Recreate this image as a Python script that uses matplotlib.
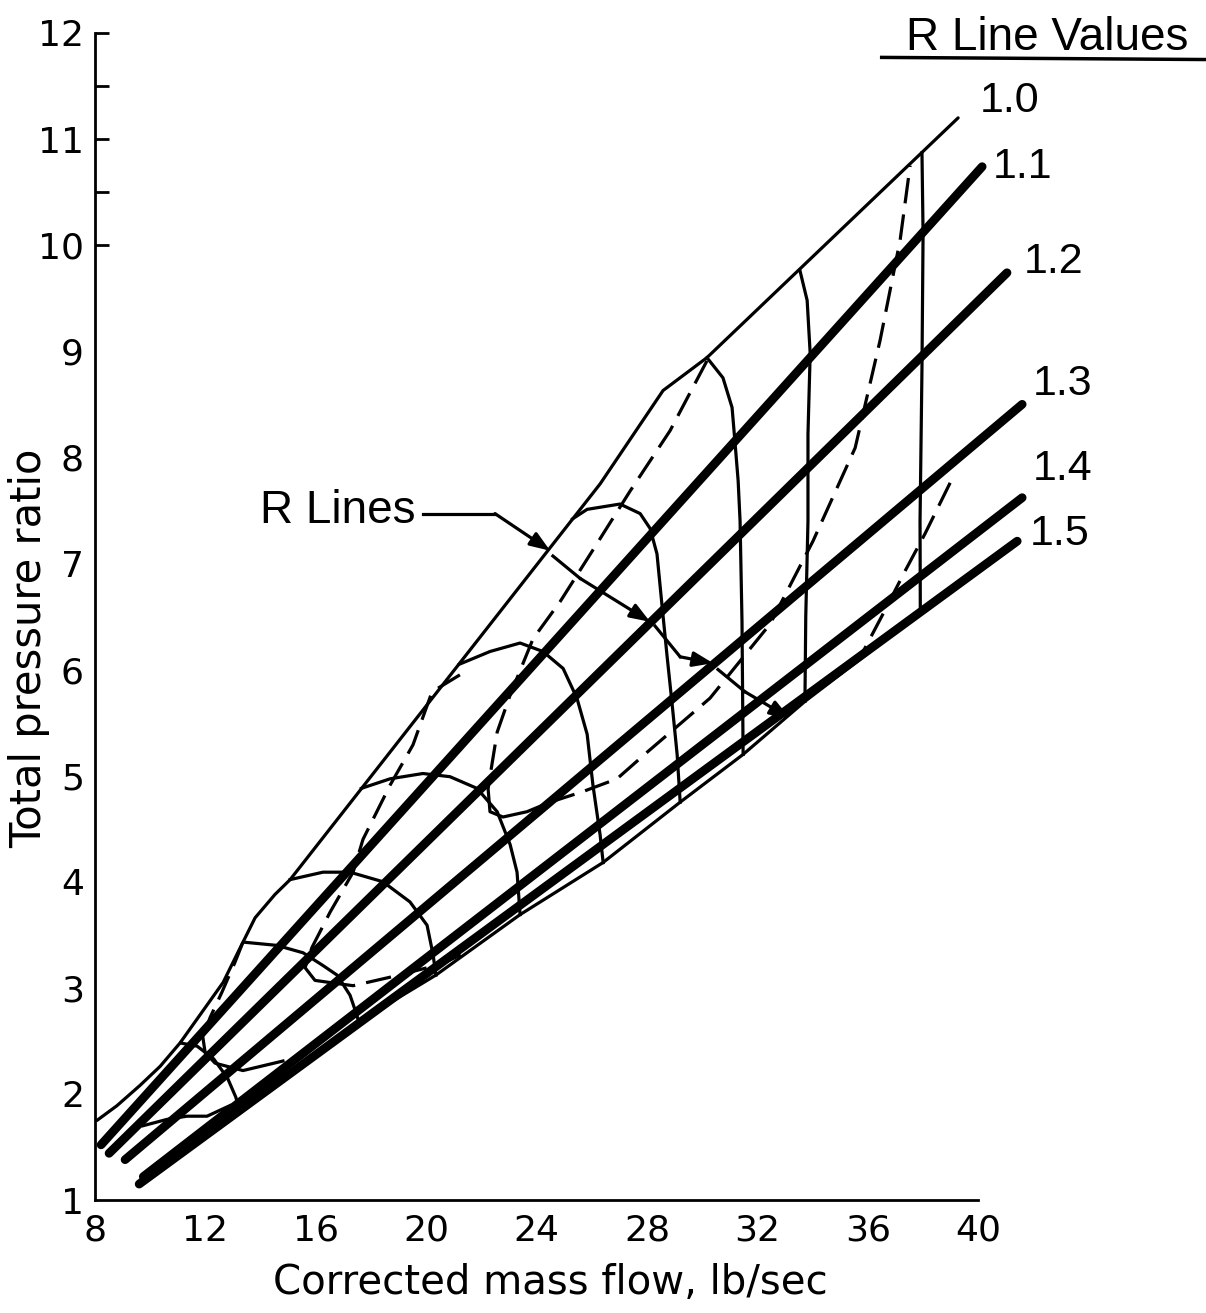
import matplotlib
matplotlib.use("Agg")
import matplotlib.pyplot as plt

# axis ticks
X_TICKS = [8, 12, 16, 20, 24, 28, 32, 36, 40]
Y_TICKS = list(range(1, 13))
Y_MARKS = [10, 10.5, 11, 11.5, 12]

# R lines 1.1 .. 1.5 (straight, heavy), start and end points
R_LABELS = ["1.0", "1.1", "1.2", "1.3", "1.4", "1.5"]
R_START_X = [8.22, 8.51, 9.09, 9.75, 9.60]
R_START_Y = [1.52, 1.44, 1.38, 1.22, 1.15]
R_END_X = [40.14, 41.04, 41.59, 41.59, 41.41]
R_END_Y = [10.74, 9.74, 8.50, 7.62, 7.21]
LABEL_X = [41.15, 41.62, 42.71, 43.07, 43.04, 42.96]
LABEL_Y = [11.36, 10.74, 9.84, 8.69, 7.89, 7.28]

# surge line, ends in the R = 1.0 line
SURGE_X = [8.07, 8.80, 9.63, 10.36, 11.08, 12.64, 13.36, 13.80, 14.52, 15.07,
           26.30, 28.58, 30.17, 39.27]
SURGE_Y = [1.75, 1.89, 2.08, 2.26, 2.48, 3.05, 3.43, 3.66, 3.88, 4.02,
           7.75, 8.63, 8.94, 11.20]

# choke side boundary
CHOKE_X = [13.2, 15.5, 17.55, 20.35, 23.4, 26.4, 29.2, 31.48, 33.72, 37.9]
CHOKE_Y = [1.86, 2.27, 2.68, 3.12, 3.69, 4.18, 4.75, 5.20, 5.70, 6.53]

# constant speed lines
SPEED_X = [
    [11.1, 11.7, 12.3, 12.8, 13.1, 13.2],
    [13.4, 14.59, 15.54, 16.26, 16.77, 17.24, 17.49, 17.55],
    [15.07, 16.26, 17.24, 18.43, 19.41, 20.03, 20.25, 20.35],
    [17.65, 18.69, 19.88, 20.86, 21.84, 22.57, 23.04, 23.29, 23.40],
    [21.2, 22.31, 23.40, 24.23, 24.96, 25.46, 25.83, 26.04, 26.30, 26.41],
    [25.3, 25.83, 27.02, 27.75, 28.11, 28.36, 28.54, 28.72, 28.91, 29.09, 29.20],
    [30.17, 30.75, 31.08, 31.19, 31.30, 31.37, 31.44, 31.48],
    [33.54, 33.80, 33.91, 33.83, 33.83, 33.75, 33.72],
    [37.96, 38.0, 37.96, 37.89, 37.9],
]
SPEED_Y = [
    [2.48, 2.45, 2.33, 2.15, 1.97, 1.88],
    [3.43, 3.40, 3.33, 3.21, 3.12, 2.93, 2.74, 2.68],
    [4.02, 4.09, 4.09, 4.00, 3.81, 3.59, 3.31, 3.12],
    [4.88, 4.97, 5.02, 4.99, 4.88, 4.66, 4.35, 4.09, 3.69],
    [6.05, 6.17, 6.25, 6.17, 6.01, 5.73, 5.39, 4.91, 4.44, 4.18],
    [7.42, 7.51, 7.56, 7.47, 7.33, 7.09, 6.61, 6.14, 5.67, 5.20, 4.75],
    [8.94, 8.75, 8.47, 8.13, 7.78, 7.40, 6.45, 5.20],
    [9.76, 9.48, 8.98, 8.22, 7.40, 6.50, 5.70],
    [10.87, 10.11, 8.84, 7.40, 6.53],
]

# dashed contours
DASH_X = [
    [30.17, 28.83, 27.38, 26.12, 24.85, 23.87, 23.04, 22.57, 22.24],
    [24.49, 25.68, 26.91, 28.0, 30.28, 32.46, 34.01, 35.54, 36.44, 37.17, 37.53],
    [21.22, 20.21, 19.52, 18.69, 17.71, 17.35, 16.51, 15.86, 15.61],
    [16.51, 17.35, 18.69, 20.5, 21.59],
    [13.36, 13.07, 12.6, 12.17, 11.91],
    [38.98, 38.07, 37.35, 36.54, 35.83],
]
DASH_Y = [
    [8.91, 8.25, 7.68, 7.16, 6.64, 6.29, 5.76, 5.41, 4.88],
    [4.75, 4.85, 4.97, 5.22, 5.73, 6.43, 7.21, 8.09, 9.10, 10.05, 10.75],
    [5.95, 5.79, 5.29, 4.91, 4.40, 4.09, 3.71, 3.38, 3.19],
    [3.05, 3.02, 3.10, 3.22, 3.35],
    [3.43, 3.24, 2.96, 2.72, 2.53],
    [7.76, 7.28, 6.93, 6.52, 6.17],
]

# solid loop bottoms joining the dashed contours
LOOP_X = [
    [22.24, 22.31, 22.78, 23.65, 24.49],
    [15.61, 15.97, 16.51],
    [11.91, 11.99, 12.35, 13.36, 14.81],
    [9.74, 10.61, 11.33, 12.06, 12.89],
]
LOOP_Y = [
    [4.88, 4.66, 4.61, 4.66, 4.75],
    [3.19, 3.07, 3.05],
    [2.53, 2.39, 2.29, 2.22, 2.31],
    [1.70, 1.76, 1.79, 1.79, 1.89],
]

# "R Lines" pointer chain
POINTER_X = [[19.88, 22.49, 24.49], [24.59, 25.57, 28.11], [28.29, 29.20, 30.39], [30.57, 31.55, 33.18]]
POINTER_Y = [[7.47, 7.47, 7.12], [7.07, 6.86, 6.45], [6.41, 6.12, 6.06], [6.00, 5.79, 5.54]]

TEXT_FONT = ["Liberation Sans", "DejaVu Sans"]
THIN = 2.3
THICK = 6.3
DASH = (0, (8, 3.5))


def main() -> None:
    fig = plt.figure(figsize=(12.06, 13.13), dpi=100)
    ax = fig.add_axes([95 / 1206, 113 / 1313, 1111 / 1206, 1167 / 1313])
    ax.set_xlim(8, 48.25)
    ax.set_ylim(1, 12)

    for name in ["top", "right"]:
        ax.spines[name].set_visible(False)
    ax.spines["bottom"].set_bounds(8, 40)
    ax.spines["left"].set_bounds(1, 12)
    for name in ["bottom", "left"]:
        ax.spines[name].set_linewidth(2.0)

    ax.set_xticks(X_TICKS)
    ax.set_yticks(Y_TICKS)
    ax.yaxis.remove_overlapping_locs = False
    ax.set_yticks(Y_MARKS, minor=True)
    ax.tick_params(axis="both", which="major", length=0, labelsize=26)
    ax.tick_params(axis="x", which="major", pad=10)
    ax.tick_params(axis="y", which="major", pad=8)
    ax.tick_params(axis="y", which="minor", direction="in", length=10, width=2.0)

    ax.set_xlabel("Corrected mass flow, lb/sec", fontsize=29)
    ax.xaxis.set_label_coords(0.41, -0.054)
    ax.set_ylabel("Total pressure ratio", fontsize=30)
    ax.yaxis.set_label_coords(-0.040, 0.473)

    ax.plot(SURGE_X, SURGE_Y, color="black", lw=THIN, clip_on=False,
            solid_capstyle="round", solid_joinstyle="round")
    ax.plot(CHOKE_X, CHOKE_Y, color="black", lw=THIN)

    for xs, ys in zip(SPEED_X, SPEED_Y):
        ax.plot(xs, ys, color="black", lw=THIN, solid_joinstyle="round")
    for xs, ys in zip(DASH_X, DASH_Y):
        ax.plot(xs, ys, color="black", lw=THIN, linestyle=DASH)
    for xs, ys in zip(LOOP_X, LOOP_Y):
        ax.plot(xs, ys, color="black", lw=THIN, solid_joinstyle="round")

    for x0, y0, x1, y1 in zip(R_START_X, R_START_Y, R_END_X, R_END_Y):
        ax.plot([x0, x1], [y0, y1], color="black", lw=THICK,
                solid_capstyle="round", clip_on=False)

    for label, x, y in zip(R_LABELS, LABEL_X, LABEL_Y):
        ax.text(x, y, label, fontsize=31, family=TEXT_FONT,
                ha="center", va="center", clip_on=False)

    ax.text(42.49, 11.95, "R Line Values", fontsize=33, family=TEXT_FONT,
            ha="center", va="center", clip_on=False)
    ax.plot([36.5, 48.2], [11.77, 11.75], color="black", lw=2.5, clip_on=False)

    ax.text(19.6, 7.49, "R Lines", fontsize=33, family=TEXT_FONT,
            ha="right", va="center")
    for xs, ys in zip(POINTER_X, POINTER_Y):
        ax.plot(xs[:2], ys[:2], color="black", lw=2.3)
        ax.annotate("", xy=(xs[2], ys[2]), xytext=(xs[1], ys[1]),
                    arrowprops=dict(arrowstyle="-|>,head_length=1.2,head_width=0.45",
                                    color="black", lw=2.3, shrinkA=0, shrinkB=0))

    fig.savefig("out.png", dpi=100)
    plt.close(fig)


if __name__ == "__main__":
    main()
